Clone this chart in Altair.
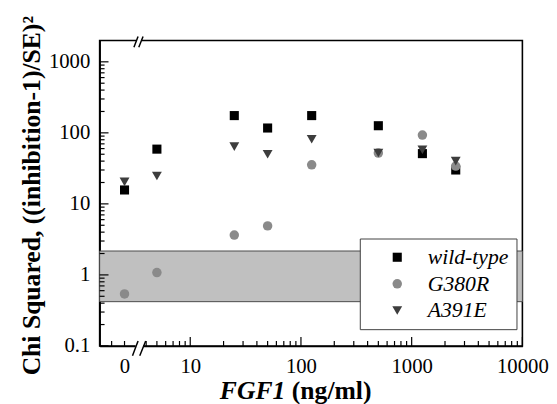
import altair as alt
import pandas as pd

# ---- data ----
fgf1_ng_ml = [0, 5, 25, 50, 125, 500, 1250, 2500]
wild_type = [15.7, 59, 175, 117, 175, 126, 51, 30]
g380r = [0.54, 1.08, 3.64, 4.9, 35.5, 52, 93, 34]
a391e = [20.4, 24.7, 64, 50, 81, 52, 58, 40]

series_names = ["wild-type", "G380R", "A391E"]
series_colors = ["#000000", "#8a8a8a", "#3d3d3d"]
series_shapes = ["square", "circle", "triangle-down"]
series_sizes = [85, 100, 140]

zero_pos = 2.55          # axis position of the "0" concentration (left of the break)
band_low = [0.42]
band_high = [2.17]

y_major = [0.1, 1, 10, 100, 1000]
y_minor = [m * d for d in [0.1, 1, 10, 100] for m in range(2, 10)]
x_label_vals = [zero_pos, 10, 100, 1000, 10000]
x_major = [10, 100, 1000, 10000]
x_minor = [1.95, zero_pos] + list(range(4, 10)) + [m * d for d in [10, 100, 1000] for m in range(2, 10)]

# axis-break decoration (data units along x)
brk_top_x1 = [3.10, 3.43]
brk_top_x2 = [3.38, 3.75]
brk_bot_x1 = [3.01, 3.50]
brk_bot_x2 = [3.38, 3.96]
gap_top = [3.24, 3.63]
gap_bot = [3.21, 3.75]

W, H = 429, 310
FONT = "Liberation Serif"

xscale = alt.Scale(type="log", domain=[1.52, 10000], nice=False)
yscale = alt.Scale(type="log", domain=[0.1, 2000], nice=False)

rows = []
for name, vals in zip(series_names, [wild_type, g380r, a391e]):
    for c, v in zip(fgf1_ng_ml, vals):
        rows.append({"series": name, "xpos": zero_pos if c == 0 else c, "fgf1": c, "chi2": v})
pts = pd.DataFrame(rows)

legend = alt.Legend(
    title=None, orient="none", legendX=264, legendY=201, padding=8,
    symbolOffset=19, labelOffset=20, rowPadding=5,
    labelFont=FONT, labelFontSize=22, labelFontStyle="italic", labelColor="black",
    strokeColor="#404040", fillColor="white", symbolSize=90, symbolStrokeWidth=0,
)

points = alt.Chart(pts).mark_point(filled=True, opacity=1, strokeWidth=0).encode(
    x=alt.X("xpos:Q", scale=xscale, axis=alt.Axis(
        values=x_label_vals, labelExpr="datum.value < 5 ? '0' : format(datum.value, 'd')",
        ticks=False, tickSize=0, grid=False, domainColor="black", domainWidth=1.6,
        labelFont=FONT, labelFontSize=21, labelColor="black", labelPadding=10,
        labelFlush=False, labelOverlap=False, title=None)),
    y=alt.Y("chi2:Q", scale=yscale, axis=alt.Axis(
        values=y_major, format="~g", ticks=False, tickSize=0, grid=False,
        domainColor="black", domainWidth=1.6,
        labelFont=FONT, labelFontSize=21, labelColor="black", labelPadding=10,
        labelOverlap=False, labelFlush=False,
        title="Chi Squared, ((inhibition-1)/SE)\u00b2", titleFont=FONT, titleFontSize=26,
        titleFontWeight="bold", titleColor="black", titleX=-61, titleY=157,
        titleAngle=270, titleAlign="center", titleBaseline="alphabetic")),
    color=alt.Color("series:N", scale=alt.Scale(domain=series_names, range=series_colors), legend=legend),
    shape=alt.Shape("series:N", scale=alt.Scale(domain=series_names, range=series_shapes), legend=legend),
    size=alt.Size("series:N", scale=alt.Scale(domain=series_names, range=series_sizes), legend=None),
)

band = alt.Chart(pd.DataFrame({"lo": band_low, "hi": band_high})).mark_rect(
    fill="#c0c0c0", stroke="#4a4a4a", strokeWidth=1).encode(
    x=alt.value(0), x2=alt.value(W),
    y=alt.Y("lo:Q", scale=yscale, axis=None), y2="hi:Q")

def yticks(vals, length):
    return alt.Chart(pd.DataFrame({"v": vals})).mark_rule(color="black", strokeWidth=1.2).encode(
        y=alt.Y("v:Q", scale=yscale, axis=None), x=alt.value(0), x2=alt.value(length))

def xticks(vals, length):
    return alt.Chart(pd.DataFrame({"v": vals})).mark_rule(color="black", strokeWidth=1.2).encode(
        x=alt.X("v:Q", scale=xscale, axis=None), y=alt.value(H), y2=alt.value(H - length))

def gap(xs, ypix):
    return alt.Chart(pd.DataFrame({"a": [xs[0]], "b": [xs[1]]})).mark_rule(
        color="white", strokeWidth=4).encode(
        x=alt.X("a:Q", scale=xscale, axis=None), x2="b:Q", y=alt.value(ypix))

def slashes(x1, x2, ylow, yhigh):
    return alt.Chart(pd.DataFrame({"a": x1, "b": x2})).mark_rule(
        color="black", strokeWidth=1.5).encode(
        x=alt.X("a:Q", scale=xscale, axis=None), x2="b:Q",
        y=alt.value(ylow), y2=alt.value(yhigh))

title_a = alt.Chart(pd.DataFrame({"t": ["FGF1"]})).mark_text(
    font=FONT, fontSize=26, fontWeight="bold", fontStyle="italic",
    align="left", baseline="alphabetic", color="black").encode(
    text="t:N", x=alt.value(122), y=alt.value(364))
title_b = alt.Chart(pd.DataFrame({"t": ["(ng/ml)"]})).mark_text(
    font=FONT, fontSize=26, fontWeight="bold",
    align="left", baseline="alphabetic", color="black").encode(
    text="t:N", x=alt.value(195), y=alt.value(364))

chart = alt.layer(
    band, points,
    yticks(y_major, 9), yticks(y_minor, 5),
    xticks(x_major, 9), xticks(x_minor, 5),
    gap(gap_top, 0), gap(gap_bot, H),
    slashes(brk_top_x1, brk_top_x2, 7, -4),
    slashes(brk_bot_x1, brk_bot_x2, H + 10, H - 5),
    title_a, title_b,
).resolve_axis(x="independent", y="independent").properties(
    width=W, height=H,
    padding={"left": 93, "top": 30, "right": 27, "bottom": 56},
    autosize=alt.AutoSizeParams(type="none"),
    background="white",
).configure_view(stroke="black", strokeWidth=1.6)

chart.save("out.html", embed_options={"renderer": "svg", "actions": False})
